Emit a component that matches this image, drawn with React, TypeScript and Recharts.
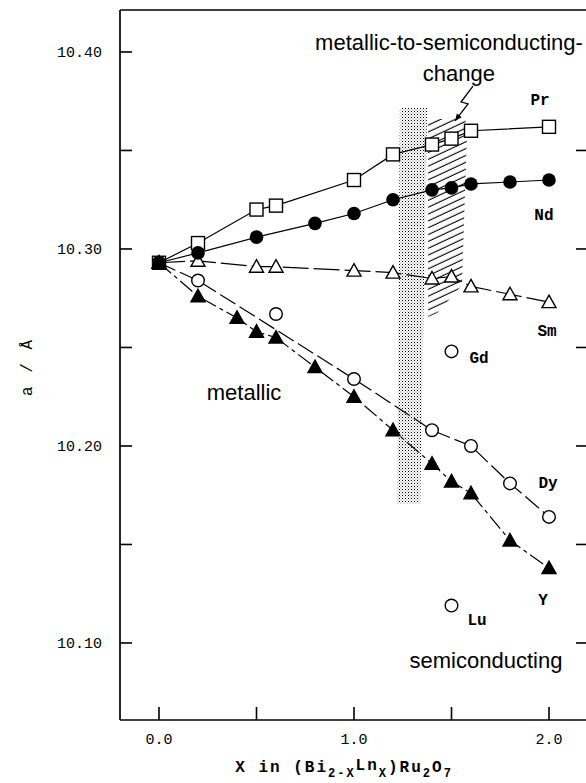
import React from 'react'
import {
  ComposedChart,
  Line,
  Scatter,
  XAxis,
  YAxis,
  ReferenceArea,
  ReferenceDot,
} from 'recharts'

// lattice parameter a (Å) vs x in (Bi2-xLnx)Ru2O7
const xTicks = [0, 0.5, 1.0, 1.5, 2.0]
const leftTicks = [10.1, 10.15, 10.2, 10.25, 10.3, 10.35, 10.4]
const rightTicks = [10.1, 10.15, 10.2, 10.25, 10.3, 10.35]

const prX = [0, 0.2, 0.5, 0.6, 1.0, 1.2, 1.4, 1.5, 1.6, 2.0]
const prA = [10.293, 10.303, 10.32, 10.322, 10.335, 10.348, 10.353, 10.356, 10.36, 10.362]

const ndX = [0, 0.2, 0.5, 0.8, 1.0, 1.2, 1.4, 1.5, 1.6, 1.8, 2.0]
const ndA = [10.293, 10.298, 10.306, 10.313, 10.318, 10.325, 10.33, 10.331, 10.333, 10.334, 10.335]

const smX = [0, 0.2, 0.5, 0.6, 1.0, 1.2, 1.4, 1.5, 1.6, 1.8, 2.0]
const smA = [10.293, 10.294, 10.291, 10.291, 10.289, 10.288, 10.285, 10.286, 10.281, 10.277, 10.273]

const dyX = [0, 0.2, 0.6, 1.0, 1.4, 1.6, 1.8, 2.0]
const dyA = [10.293, 10.284, 10.267, 10.234, 10.208, 10.2, 10.181, 10.164]
// the drawn Dy curve passes below the x = 0.6 point
const dyCurveX = [0, 0.2, 1.0, 1.4, 1.6, 1.8, 2.0]
const dyCurveA = [10.293, 10.284, 10.234, 10.208, 10.2, 10.181, 10.164]

const yX = [0, 0.2, 0.4, 0.5, 0.6, 0.8, 1.0, 1.2, 1.4, 1.5, 1.6, 1.8, 2.0]
const yA = [10.293, 10.276, 10.265, 10.258, 10.255, 10.24, 10.225, 10.208, 10.191, 10.182, 10.176, 10.152, 10.138]

const gdX = [1.5]
const gdA = [10.248]
const luX = [1.5]
const luA = [10.119]

// zigzag arrow from "change" to the hatched region
const arrowX = [1.61, 1.549, 1.585, 1.518]
const arrowA = [10.3827, 10.3746, 10.3736, 10.365]

// stippled and hatched transition bands
const stipple = { x1: 1.22, x2: 1.375, a1: 10.1706, a2: 10.3716 }
const hatch = { x1: 1.38, x2: 1.58, a1: 10.2655, a2: 10.366 }

const elementLabels = [
  { text: 'Pr', x: 1.954, a: 10.3751 },
  { text: 'Nd', x: 1.974, a: 10.3168 },
  { text: 'Sm', x: 1.99, a: 10.2579 },
  { text: 'Gd', x: 1.641, a: 10.2442 },
  { text: 'Dy', x: 1.995, a: 10.1807 },
  { text: 'Y', x: 1.969, a: 10.1213 },
  { text: 'Lu', x: 1.631, a: 10.1112 },
]

const notes = [
  { text: 'metallic-to-semiconducting-', x: 1.487, a: 10.4046 },
  { text: 'change', x: 1.538, a: 10.3893 },
  { text: 'metallic', x: 0.436, a: 10.2269 },
  { text: 'semiconducting', x: 1.677, a: 10.0909 },
]

const rows = (xs: number[], as: number[]) => xs.map((x, i) => ({ x, a: as[i] }))

const MONO = '"Liberation Mono", "DejaVu Sans Mono", monospace'
const SANS = '"Liberation Sans", Arial, sans-serif'
const TICK_LEN = 13

const openSquare = (p: any) => (
  <rect x={p.cx - 6.5} y={p.cy - 6.5} width={13} height={13} fill="#fff" stroke="#000" strokeWidth={1.4} />
)
const filledCircle = (p: any) => <circle cx={p.cx} cy={p.cy} r={6.8} fill="#000" />
const openCircle = (p: any) => (
  <circle cx={p.cx} cy={p.cy} r={6.3} fill="#fff" stroke="#000" strokeWidth={1.4} />
)
const triangle = (filled: boolean) => (p: any) => (
  <polygon
    points={`${p.cx},${p.cy - 7} ${p.cx + 7},${p.cy + 5.5} ${p.cx - 7},${p.cy + 5.5}`}
    fill={filled ? '#000' : '#fff'}
    stroke="#000"
    strokeWidth={1.4}
  />
)

const arrowHead = (p: any) =>
  p.index === arrowX.length - 1 ? (
    <polygon
      key={`ah-${p.index}`}
      points={`${p.cx},${p.cy} ${p.cx + 6.7},${p.cy - 3.7} ${p.cx + 1.9},${p.cy - 7.3}`}
      fill="#000"
    />
  ) : (
    <g key={`ah-${p.index}`} />
  )

const polyShape = (fr: number[][], fill: string) => (p: any) => (
  <polygon
    points={fr.map(([fx, fy]) => `${p.x + fx * p.width},${p.y + fy * p.height}`).join(' ')}
    fill={fill}
    stroke="none"
  />
)

const textShape = (text: string, font: string, size: number, weight: string) => (p: any) => (
  <text
    x={p.cx}
    y={p.cy}
    textAnchor="middle"
    dominantBaseline="central"
    fontFamily={font}
    fontSize={size}
    fontWeight={weight}
    fill="#000"
  >
    {text}
  </text>
)

const majorY = (v: number) => (Math.round(v * 100) % 10 === 0 ? v.toFixed(2) : '')
const majorX = (v: number) => (Math.round(v * 10) % 10 === 0 ? v.toFixed(1) : '')

// inward tick marks drawn by hand, labels outside
const BOTTOM_GAP = 20
const LEFT_GAP = 18

const bottomTick = (p: any) => (
  <g>
    <line x1={p.x} x2={p.x} y1={p.y - BOTTOM_GAP} y2={p.y - BOTTOM_GAP - TICK_LEN} stroke="#000" strokeWidth={1.6} />
    <text x={p.x} y={p.y} textAnchor="middle" dominantBaseline="central" fontFamily={MONO} fontSize={15} fill="#000">
      {majorX(p.payload.value)}
    </text>
  </g>
)
const topTick = (p: any) => (
  <line x1={p.x} x2={p.x} y1={p.y} y2={p.y + TICK_LEN} stroke="#000" strokeWidth={1.6} />
)
const leftTick = (p: any) => (
  <g>
    <line x1={p.x + LEFT_GAP} x2={p.x + LEFT_GAP + TICK_LEN - 1} y1={p.y} y2={p.y} stroke="#000" strokeWidth={1.6} />
    <text x={p.x} y={p.y + 2} textAnchor="end" dominantBaseline="central" fontFamily={MONO} fontSize={15} fill="#000">
      {majorY(p.payload.value)}
    </text>
  </g>
)
const rightTick = (p: any) => (
  <line x1={p.x - TICK_LEN + 1} x2={p.x} y1={p.y} y2={p.y} stroke="#000" strokeWidth={1.6} />
)

const XTitle = (props: any) => {
  const vb = props.viewBox
  const sub = { fontSize: 12 }
  return (
    <text
      x={vb.x + vb.width / 2 - 10}
      y={vb.y + 52}
      textAnchor="middle"
      fontFamily={MONO}
      fontWeight="bold"
      fontSize={16}
      letterSpacing={2}
      fill="#000"
    >
      X in (Bi
      <tspan dy={5} {...sub}>2-X</tspan>
      <tspan dy={-7}>Ln</tspan>
      <tspan dy={7} {...sub}>X</tspan>
      <tspan dy={-5}>)Ru</tspan>
      <tspan dy={5} {...sub}>2</tspan>
      <tspan dy={-5}>O</tspan>
      <tspan dy={5} {...sub}>7</tspan>
    </text>
  )
}

const YTitle = (props: any) => {
  const vb = props.viewBox
  const cx = vb.x + 28
  const cy = vb.y + vb.height / 2 + 2
  return (
    <text
      transform={`translate(${cx}, ${cy}) rotate(-90)`}
      textAnchor="middle"
      dominantBaseline="central"
      fontFamily={MONO}
      fontSize={16}
      letterSpacing={2}
      fill="#000"
    >
      a / Å
    </text>
  )
}

const axisStroke = { stroke: '#000', strokeWidth: 1.7 }

export default function App() {
  return (
    <div
      style={{
        position: 'absolute',
        left: 0,
        top: 0,
        width: 586,
        height: 783,
        overflow: 'hidden',
        background: '#fff',
      }}
    >
      <ComposedChart width={600} height={783} margin={{ top: 9, right: 0, bottom: 33, left: 0 }}>
        <defs>
          <pattern id="stipple" width={3} height={3} patternUnits="userSpaceOnUse">
            <rect width={3} height={3} fill="#fff" />
            <rect x={0} y={0} width={1} height={1} fill="#000" />
            <rect x={1.5} y={1.5} width={1} height={1} fill="#777" />
          </pattern>
          <pattern
            id="hatch"
            width={6}
            height={6.2}
            patternUnits="userSpaceOnUse"
            patternTransform="rotate(-25)"
          >
            <line x1={0} y1={3} x2={6} y2={3} stroke="#000" strokeWidth={1.1} />
          </pattern>
        </defs>

        <XAxis
          type="number"
          dataKey="x"
          domain={[-0.2, 2.2]}
          allowDataOverflow
          ticks={xTicks}
          interval={0}
          height={30}
          tickSize={0}
          tickMargin={BOTTOM_GAP}
          axisLine={axisStroke}
          tickLine={false}
          tick={bottomTick}
          label={{ content: XTitle }}
        />
        <XAxis
          xAxisId="top"
          orientation="top"
          type="number"
          domain={[-0.2, 2.2]}
          allowDataOverflow
          ticks={xTicks}
          interval={0}
          height={1}
          tickSize={0}
          tickMargin={0}
          axisLine={axisStroke}
          tickLine={false}
          tick={topTick}
        />
        <YAxis
          type="number"
          domain={[10.0609, 10.4213]}
          allowDataOverflow
          ticks={leftTicks}
          interval={0}
          width={120}
          tickSize={0}
          tickMargin={LEFT_GAP}
          axisLine={axisStroke}
          tickLine={false}
          tick={leftTick}
          label={{ content: YTitle }}
        />
        <YAxis
          yAxisId="right"
          orientation="right"
          type="number"
          domain={[10.0609, 10.4213]}
          allowDataOverflow
          ticks={rightTicks}
          interval={0}
          width={12}
          tickSize={0}
          tickMargin={0}
          axisLine={axisStroke}
          tickLine={false}
          tick={rightTick}
        />

        <ReferenceArea
          x1={stipple.x1}
          x2={stipple.x2}
          y1={stipple.a1}
          y2={stipple.a2}
          shape={polyShape([[0.1, 0], [1, 0], [0.77, 1], [0, 1]], 'url(#stipple)')}
        />
        <ReferenceArea
          x1={hatch.x1}
          x2={hatch.x2}
          y1={hatch.a1}
          y2={hatch.a2}
          shape={polyShape(
            [[0, 0], [0.95, 0], [1, 0.05], [0.87, 0.84], [0.23, 0.98], [0, 1]],
            'url(#hatch)'
          )}
        />

        <Line data={rows(prX, prA)} dataKey="a" stroke="#000" strokeWidth={1.2} dot={false} isAnimationActive={false} />
        <Line data={rows(ndX, ndA)} dataKey="a" stroke="#000" strokeWidth={1.2} dot={false} isAnimationActive={false} />
        <Line data={rows(smX, smA)} dataKey="a" stroke="#000" strokeWidth={1.2} strokeDasharray="26 5" dot={false} isAnimationActive={false} />
        <Line data={rows(dyCurveX, dyCurveA)} dataKey="a" stroke="#000" strokeWidth={1.2} strokeDasharray="18 5" dot={false} isAnimationActive={false} />
        <Line data={rows(yX, yA)} dataKey="a" stroke="#000" strokeWidth={1.2} strokeDasharray="16 4 4 4" dot={false} isAnimationActive={false} />
        <Line data={rows(arrowX, arrowA)} dataKey="a" stroke="#000" strokeWidth={1.3} dot={arrowHead} isAnimationActive={false} />

        <Scatter data={rows(prX, prA)} dataKey="a" shape={openSquare} isAnimationActive={false} />
        <Scatter data={rows(smX, smA)} dataKey="a" shape={triangle(false)} isAnimationActive={false} />
        <Scatter data={rows(dyX, dyA)} dataKey="a" shape={openCircle} isAnimationActive={false} />
        <Scatter data={rows(gdX, gdA)} dataKey="a" shape={openCircle} isAnimationActive={false} />
        <Scatter data={rows(luX, luA)} dataKey="a" shape={openCircle} isAnimationActive={false} />
        <Scatter data={rows(yX, yA)} dataKey="a" shape={triangle(true)} isAnimationActive={false} />
        <Scatter data={rows(ndX, ndA)} dataKey="a" shape={filledCircle} isAnimationActive={false} />

        {elementLabels.map((l) => (
          <ReferenceDot key={l.text} x={l.x} y={l.a} r={0} shape={textShape(l.text, MONO, 16, 'bold')} />
        ))}
        {notes.map((n) => (
          <ReferenceDot key={n.text} x={n.x} y={n.a} r={0} shape={textShape(n.text, SANS, 22, 'normal')} />
        ))}
      </ComposedChart>
    </div>
  )
}
